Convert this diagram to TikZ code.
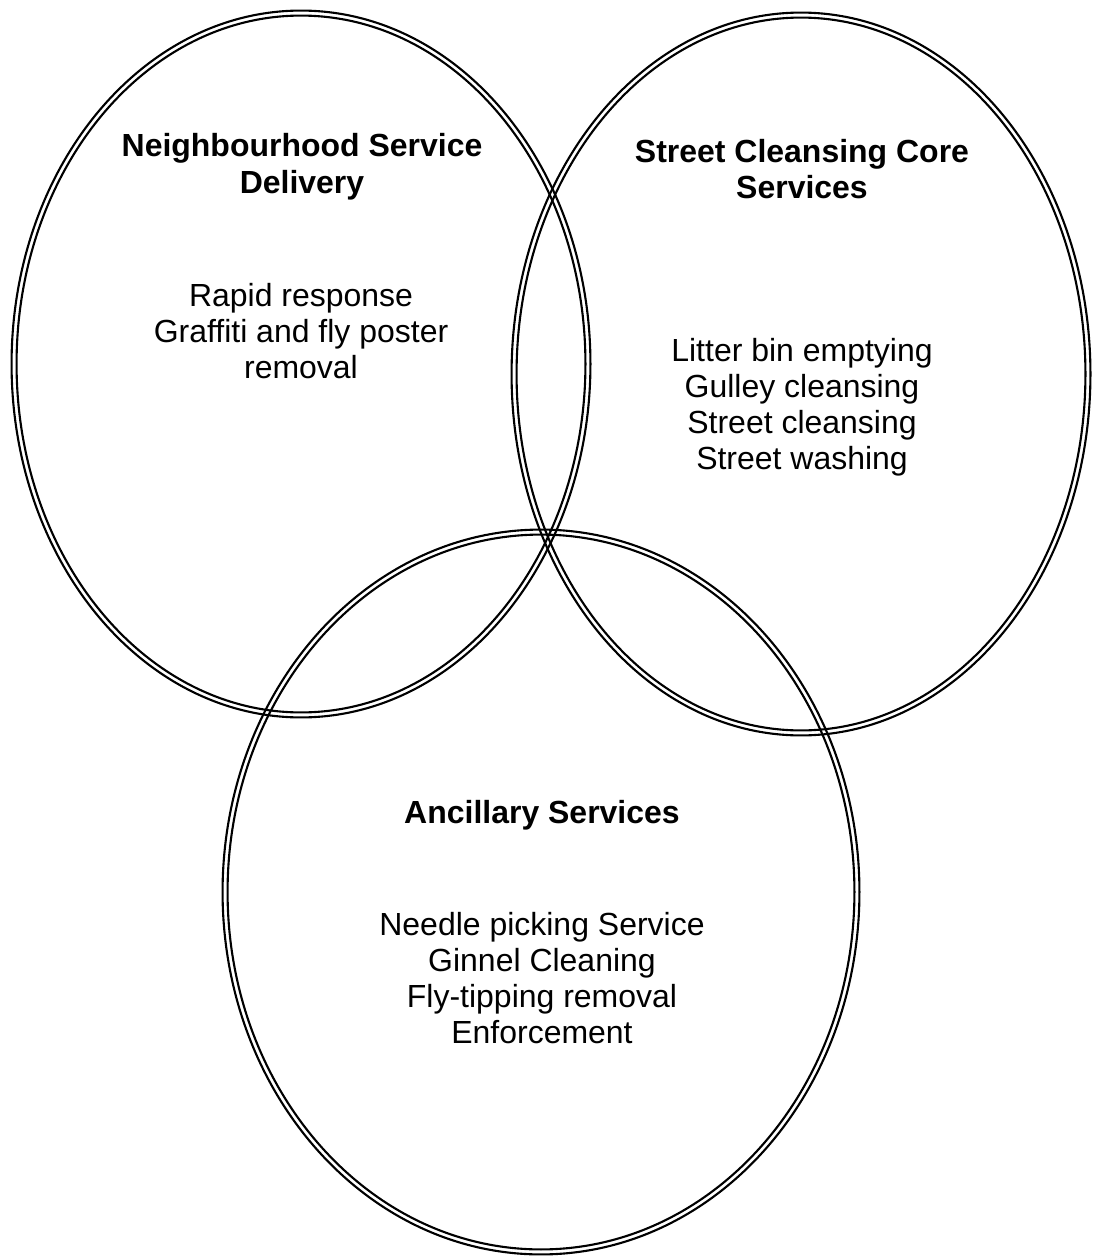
\documentclass[tikz,border=0pt]{standalone}
\usepackage{fontspec}
\setmainfont{Liberation Sans}
\usepackage{tikz}
\usetikzlibrary{shapes.geometric}
\tikzstyle{ring} = [ellipse, draw = black, line width = 1.2pt, inner sep = 0pt]
\tikzstyle{heading} = [align = center, font = \fontsize{18.2}{20.8}\selectfont\bfseries]
\tikzstyle{items} = [align = center, font = \fontsize{18.2}{20.5}\selectfont]

\begin{document}
\begin{tikzpicture}[x = 0.02cm, y = -0.02cm]
\useasboundingbox (0,0) rectangle (1098,1257);

% each circle is drawn as two thin outlines
\node(nsdout) [ring, minimum width = 11.58cm, minimum height = 14.14cm] at (301,364) {};
\node(nsdin)  [ring, minimum width = 11.38cm, minimum height = 13.94cm] at (nsdout.center) {};
\node(coreout)[ring, minimum width = 11.58cm, minimum height = 14.46cm] at (801,374) {};
\node(corein) [ring, minimum width = 11.38cm, minimum height = 14.26cm] at (coreout.center) {};
\node(ancout) [ring, minimum width = 12.74cm, minimum height = 14.50cm] at (541,892) {};
\node(ancin)  [ring, minimum width = 12.54cm, minimum height = 14.30cm] at (ancout.center) {};

\node(nsdtitle) [heading] at (302,167) {Neighbourhood Service\\Delivery};
\node(nsdlist)  [items]   at (301,331) {Rapid response\\Graffiti and fly poster\\removal};

\node(coretitle)[heading] at (802,169) {Street Cleansing Core\\Services};
\node(corelist) [items]   at (802,407) {Litter bin emptying\\Gulley cleansing\\Street cleansing\\Street washing};

\node(anctitle) [heading] at (542,815) {Ancillary Services};
\node(anclist)  [items]   at (542,978) {Needle picking Service\\Ginnel Cleaning\\Fly-tipping removal\\Enforcement};

\end{tikzpicture}
\end{document}
